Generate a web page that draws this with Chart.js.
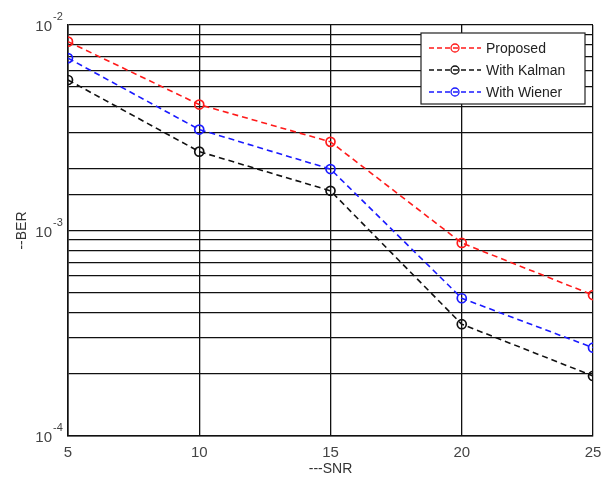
<!DOCTYPE html>
<html>
<head>
<meta charset="utf-8">
<script src="https://cdn.jsdelivr.net/npm/chart.js@4/dist/chart.umd.min.js"></script>
<style>
html,body{margin:0;padding:0;background:#fff;}
#wrap{width:601px;height:481px;position:relative;}
</style>
</head>
<body>
<div id="wrap"><canvas id="berChart" width="601" height="481"></canvas></div>
<script>
// SNR values and BER curves
const snr=[5,10,15,20,25];
const proposed=[8.3e-3,4.1e-3,2.70e-3,8.7e-4,4.85e-4];
const kalman=[5.4e-3,2.42e-3,1.56e-3,3.5e-4,1.96e-4];
const wiener=[6.9e-3,3.1e-3,1.99e-3,4.68e-4,2.69e-4];
const seriesNames=['Proposed','With Kalman','With Wiener'];
const seriesColors=['#ff1a1a','#111111','#1a1aff'];
const yExps=[-4,-3,-2];

const toPts=arr=>snr.map((x,i)=>({x,y:arr[i]}));

// 10^n style labels on the y axis
const expLabels={
id:'expLabels',
afterDraw(chart){
const ctx=chart.ctx,y=chart.scales.y,left=chart.chartArea.left;
ctx.save();
ctx.fillStyle='#444';
ctx.textBaseline='middle';
yExps.forEach(e=>{
const py=y.getPixelForValue(Math.pow(10,e));
ctx.font='15px "Liberation Sans", Arial, sans-serif';
ctx.textAlign='right';
ctx.fillText('10',left-16,py+2);
ctx.font='11px "Liberation Sans", Arial, sans-serif';
ctx.textAlign='left';
ctx.fillText(String(e),left-15,py-8);
});
ctx.restore();
}
};

// boxed legend in the top-right corner with line + circle samples
const boxLegend={
id:'boxLegend',
afterDraw(chart){
const ctx=chart.ctx;
const bx=421,by=33,bw=164,bh=71;
ctx.save();
ctx.fillStyle='#fff';
ctx.fillRect(bx,by,bw,bh);
ctx.strokeStyle='#222';
ctx.lineWidth=1.2;
ctx.strokeRect(bx,by,bw,bh);
chart.data.datasets.forEach((ds,i)=>{
const cy=by+15+i*22;
ctx.strokeStyle=ds.borderColor;
ctx.lineWidth=1.3;
ctx.setLineDash([5,3]);
ctx.beginPath();ctx.moveTo(429,cy);ctx.lineTo(481,cy);ctx.stroke();
ctx.setLineDash([]);
ctx.beginPath();ctx.arc(455,cy,4,0,Math.PI*2);ctx.stroke();
ctx.fillStyle='#222';
ctx.font='14px "Liberation Sans", Arial, sans-serif';
ctx.textAlign='left';ctx.textBaseline='middle';
ctx.fillText(ds.label,486,cy+1);
});
ctx.restore();
}
};

const mk=(i,data)=>({
label:seriesNames[i],
data:toPts(data),
borderColor:seriesColors[i],
borderWidth:1.6,
borderDash:[6,4],
pointRadius:4.5,
pointHoverRadius:4.5,
pointBorderWidth:1.7,
pointBackgroundColor:'rgba(0,0,0,0)',
pointBorderColor:seriesColors[i],
tension:0
});

new Chart(document.getElementById('berChart'),{
type:'line',
data:{datasets:[mk(0,proposed),mk(1,kalman),mk(2,wiener)]},
options:{
responsive:false,
animation:false,
layout:{padding:{top:25,right:8,left:0,bottom:0}},
plugins:{legend:{display:false},tooltip:{enabled:false}},
scales:{
x:{
type:'linear',min:5,max:25,
border:{color:'#111',width:1.6},
grid:{color:'#111',lineWidth:1.3,drawTicks:false},
ticks:{stepSize:5,padding:8,color:'#444',font:{family:'"Liberation Sans", Arial, sans-serif',size:15}},
title:{display:true,text:'---SNR',color:'#333',padding:{top:0,bottom:3},font:{family:'"Liberation Sans", Arial, sans-serif',size:14}},
afterFit(s){s.height=45;s.paddingRight=0;s.paddingLeft=0;}
},
y:{
type:'logarithmic',min:1e-4,max:1e-2,
border:{color:'#111',width:1.6},
grid:{color:'#111',lineWidth:1.3,drawTicks:false},
ticks:{autoSkip:false,callback:()=>'',padding:0},
title:{display:true,text:'--BER',color:'#333',padding:{top:14,bottom:0},font:{family:'"Liberation Sans", Arial, sans-serif',size:14}},
afterFit(s){s.width=68;}
}
}
},
plugins:[expLabels,boxLegend]
});
</script>
</body>
</html>
